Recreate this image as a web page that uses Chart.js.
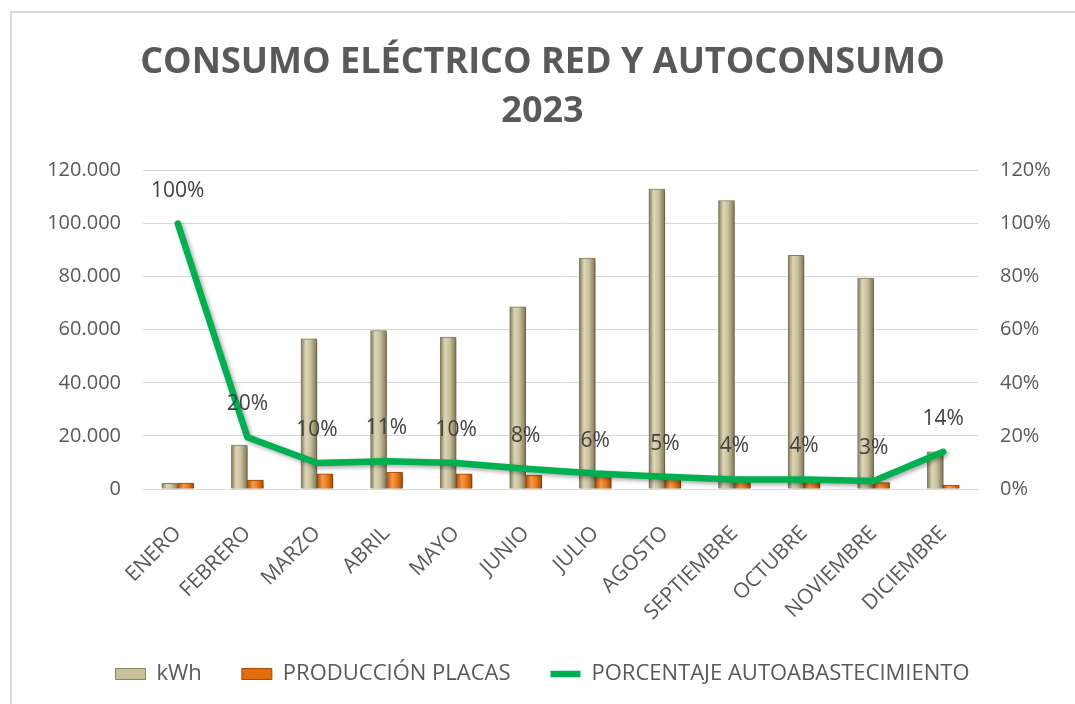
<!DOCTYPE html>
<html>
<head>
<meta charset="utf-8">
<script src="https://cdn.jsdelivr.net/npm/chart.js@4.4.1/dist/chart.umd.min.js"></script>
<style>
  html, body { margin: 0; padding: 0; background: #fff; }
  #wrap { width: 1075px; height: 704px; position: relative; }
</style>
</head>
<body>
<div id="wrap"><canvas id="consumo" width="1075" height="704"></canvas></div>
<script>
// datos
const meses = ["ENERO", "FEBRERO", "MARZO", "ABRIL", "MAYO", "JUNIO", "JULIO", "AGOSTO", "SEPTIEMBRE", "OCTUBRE", "NOVIEMBRE", "DICIEMBRE"];
const kwh = [2100, 16500, 56600, 59700, 57200, 68600, 87000, 113000, 108700, 88000, 79500, 14000];
const produccionPlacas = [2200, 3400, 5700, 6400, 5700, 5200, 5000, 5300, 3000, 3000, 2400, 1500];
const autoabastecimiento = [1.00, 0.195, 0.098, 0.105, 0.098, 0.076, 0.058, 0.046, 0.036, 0.036, 0.030, 0.14];
const ticksKwh = [0, 20000, 40000, 60000, 80000, 100000, 120000];
const ticksPct = [0, 0.2, 0.4, 0.6, 0.8, 1.0, 1.2];

const gris = "#595959";
const fuente = "'Open Sans', 'Noto Sans', sans-serif";

function miles(v) {
  return String(Math.round(v)).replace(/\B(?=(\d{3})+(?!\d))/g, ".");
}

// degradado horizontal en cada barra (aspecto biselado)
const barrasDegradado = {
  id: "barrasDegradado",
  beforeDatasetsDraw(chart) {
    const ctx = chart.ctx;
    chart.data.datasets.forEach((ds, i) => {
      if (ds.type !== "bar") return;
      const meta = chart.getDatasetMeta(i);
      meta.data.forEach((el) => {
        const x0 = el.x - el.width / 2, x1 = el.x + el.width / 2;
        const g = ctx.createLinearGradient(x0, 0, x1, 0);
        ds.stops.forEach((s) => g.addColorStop(s[0], s[1]));
        el.options.backgroundColor = g;
      });
    });
  },
  beforeDatasetDraw(chart) {
    const ctx = chart.ctx;
    ctx.save();
    ctx.shadowColor = "rgba(0,0,0,0.35)";
    ctx.shadowBlur = 4;
    ctx.shadowOffsetX = 2;
    ctx.shadowOffsetY = 2;
  },
  afterDatasetDraw(chart) {
    chart.ctx.restore();
  },
};

// etiquetas de porcentaje encima de la línea
const etiquetas = {
  id: "etiquetas",
  afterDatasetsDraw(chart) {
    const ctx = chart.ctx;
    const meta = chart.getDatasetMeta(2);
    ctx.save();
    ctx.font = "21px " + fuente;
    ctx.fillStyle = "#404040";
    ctx.textAlign = "center";
    ctx.textBaseline = "middle";
    meta.data.forEach((pt, i) => {
      ctx.fillText(Math.round(autoabastecimiento[i] * 100) + "%", pt.x, pt.y - 33);
    });
    ctx.restore();
  },
};

const borde = {
  id: "borde",
  beforeDraw(chart) {
    const ctx = chart.ctx;
    ctx.save();
    ctx.strokeStyle = "#d9d9d9";
    ctx.lineWidth = 2;
    ctx.strokeRect(11, 12, 2000, 2000);
    ctx.restore();
  },
};

const config = {
  data: {
    labels: meses,
    datasets: [
      {
        type: "bar",
        label: "kWh",
        data: kwh,
        yAxisID: "y",
        order: 1,
        backgroundColor: () => "#c9c19c",
        borderColor: "#8a8262",
        borderWidth: 1,
        pointStyle: "rect",
        barThickness: 16,
        stops: [[0, "#7f7757"], [0.3, "#ddd6b8"], [0.6, "#c9c19b"], [1, "#7d7555"]],
      },
      {
        type: "bar",
        label: "PRODUCCIÓN PLACAS",
        data: produccionPlacas,
        yAxisID: "y",
        order: 1,
        backgroundColor: () => "#e46c0a",
        borderColor: "#a84a05",
        borderWidth: 1,
        pointStyle: "rect",
        barThickness: 16,
        stops: [[0, "#b04e06"], [0.35, "#f79a45"], [0.65, "#e87a1c"], [1, "#a84a05"]],
      },
      {
        type: "line",
        label: "PORCENTAJE AUTOABASTECIMIENTO",
        data: autoabastecimiento,
        yAxisID: "y1",
        order: 0,
        borderColor: "#00b050",
        backgroundColor: "#00b050",
        borderWidth: 6.5,
        pointRadius: 0,
        pointStyle: "line",
        tension: 0,
        borderCapStyle: "round",
        borderJoinStyle: "round",
      },
    ],
  },
  options: {
    responsive: false,
    animation: false,
    layout: { padding: { left: 10, right: 0, top: 11, bottom: 9 } },
    datasets: { bar: { categoryPercentage: 0.58 } },
    scales: {
      x: {
        grid: { display: false, drawTicks: false },
        border: { color: "#d9d9d9", width: 1 },
        ticks: {
          color: gris,
          font: { family: fuente, size: 21 },
          maxRotation: 45,
          minRotation: 45,
          padding: 32,
        },
        afterFit: (s) => { s.height = 134; },
      },
      y: {
        position: "left",
        min: 0,
        max: 120000,
        afterBuildTicks: (s) => { s.ticks = ticksKwh.map((v) => ({ value: v })); },
        grid: { color: "#d9d9d9", drawTicks: false },
        border: { display: false },
        ticks: {
          color: gris,
          font: { family: fuente, size: 20 },
          padding: 22,
          callback: (v) => miles(v),
        },
        afterFit: (s) => { s.width = 133; },
      },
      y1: {
        position: "right",
        min: 0,
        max: 1.2,
        afterBuildTicks: (s) => { s.ticks = ticksPct.map((v) => ({ value: v })); },
        grid: { drawOnChartArea: false, drawTicks: false },
        border: { display: false },
        ticks: {
          color: gris,
          font: { family: fuente, size: 20 },
          padding: 22,
          callback: (v) => Math.round(v * 100) + "%",
        },
        afterFit: (s) => { s.width = 97; },
      },
    },
    plugins: {
      title: {
        display: true,
        text: ["CONSUMO ELÉCTRICO RED Y AUTOCONSUMO", "2023"],
        color: gris,
        font: { family: fuente, size: 36, weight: "bold", lineHeight: 1.34 },
        padding: { top: 28, bottom: 35 },
      },
      legend: {
        position: "bottom",
        labels: {
          color: gris,
          font: { family: fuente, size: 22 },
          usePointStyle: true,
          pointStyleWidth: 30,
          boxHeight: 11,
          padding: 40,
          sort: (a, b) => a.datasetIndex - b.datasetIndex,
        },
      },
      tooltip: { enabled: false },
    },
  },
  plugins: [borde, barrasDegradado, etiquetas],
};

const canvasConsumo = document.getElementById("consumo");
if (canvasConsumo) {
  new Chart(canvasConsumo.getContext("2d"), config);
}
</script>
</body>
</html>
